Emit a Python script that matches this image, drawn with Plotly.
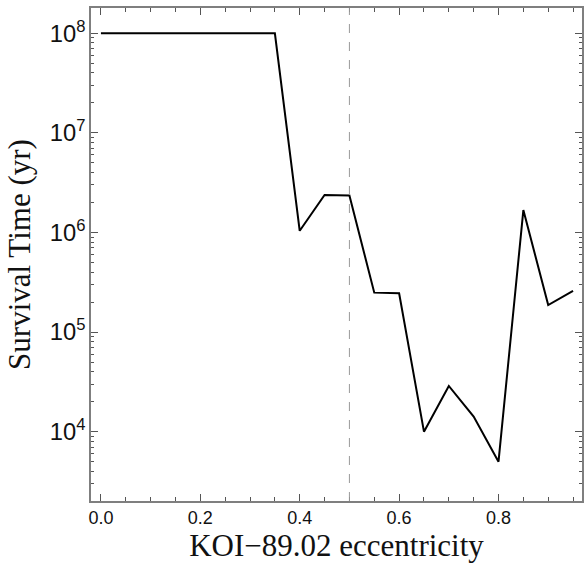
import plotly.graph_objects as go

# KOI-89.02 eccentricity grid and the corresponding survival times
eccentricity = [0.0, 0.05, 0.10, 0.15, 0.20, 0.25, 0.30, 0.35, 0.40, 0.45,
                0.50, 0.55, 0.60, 0.65, 0.70, 0.75, 0.80, 0.85, 0.90, 0.95]
survival_yr = [1e8, 1e8, 1e8, 1e8, 1e8, 1e8, 1e8, 1e8, 1.04e6, 2.38e6,
               2.35e6, 2.49e5, 2.45e5, 1.0e4, 2.88e4, 1.42e4, 5.0e3, 1.68e6, 1.87e5, 2.6e5]
marker_ecc = 0.5

fig = go.Figure()
fig.add_trace(go.Scatter(
    x=eccentricity, y=survival_yr, mode="lines",
    line=dict(color="black", width=2), showlegend=False,
))

fig.add_shape(type="line", xref="x", yref="paper", x0=marker_ecc, x1=marker_ecc,
              y0=0, y1=1, line=dict(color="#999999", width=1, dash="dash"))

axis_color = "#7f7f7f"
fig.update_xaxes(
    range=[-0.02, 0.968], tick0=0, dtick=0.2, tickformat=".1f",
    showline=True, linecolor=axis_color, linewidth=1.5, mirror="ticks",
    ticks="inside", ticklen=7, tickcolor="#555555", tickwidth=1,
    minor=dict(dtick=0.05, ticks="inside", ticklen=4, tickcolor="#555555"),
    showgrid=False, zeroline=False,
    tickfont=dict(family="Liberation Sans, Arial", size=18, color="#111111"),
    title=dict(text="KOI\u221289.02 eccentricity",
               font=dict(family="Liberation Serif, Times New Roman", size=31, color="#111111"),
               standoff=6),
)
fig.update_yaxes(
    type="log", range=[3.304, 8.254], dtick=1, exponentformat="power",
    showline=True, linecolor=axis_color, linewidth=1.5, mirror="ticks",
    ticks="inside", ticklen=7, tickcolor="#555555", tickwidth=1,
    minor=dict(dtick="D1", ticks="inside", ticklen=3, tickcolor="#555555"),
    showgrid=False, zeroline=False,
    tickfont=dict(family="Liberation Sans, Arial", size=19, color="#111111"),
    title=dict(text="Survival Time (yr)",
               font=dict(family="Liberation Serif, Times New Roman", size=31, color="#111111"),
               standoff=10),
)
fig.update_layout(
    width=584, height=565,
    margin=dict(l=91, r=0, t=8, b=64),
    paper_bgcolor="white", plot_bgcolor="white",
)
fig.write_html("out.html")
